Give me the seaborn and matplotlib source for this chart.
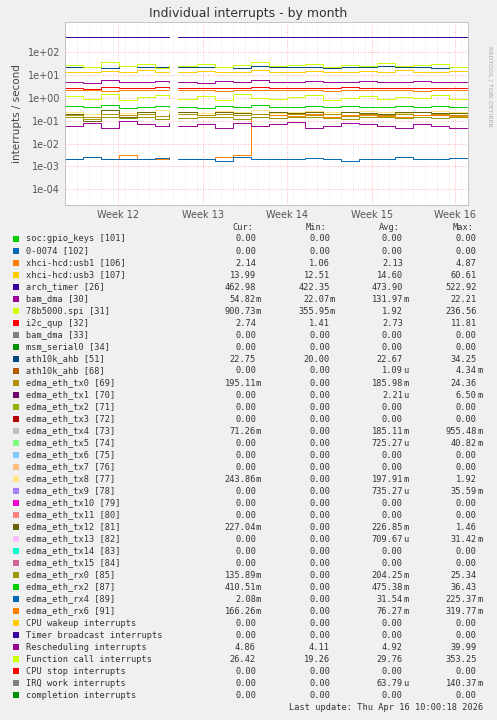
import matplotlib
matplotlib.use("Agg")
import matplotlib.pyplot as plt
import matplotlib.patches as mpatches
import matplotlib.ticker as mticker
import seaborn as sns
import pandas as pd
import numpy as np

# sample times in days; the data gap sits between 8.7 and 9.4
days = [0, 1.5, 3, 4.5, 6, 7.5, 8.7, 9.4, 11, 12.5, 14, 15.5, 17, 18.5, 20, 21.5,
        23, 24.5, 26, 27.5, 29, 30.5, 32, 33.6]
gap_after = 8.7

series = {
    "arch_timer [26]": ("#330099", [470, 465, 462, 468, 460, 466, 463, 470, 462, 465, 460, 468, 463, 461, 466, 462, 470, 464, 462, 467, 463, 461, 465, 463]),
    "ath10k_ahb [51]": ("#00487D", [22, 23, 21, 24, 22, 23, 21, 22, 23, 22, 21, 24, 22, 23, 22, 21, 23, 22, 24, 22, 23, 21, 22, 23]),
    "Function call interrupts": ("#CCFF00", [28, 22, 35, 25, 30, 20, 26, 24, 30, 22, 28, 35, 24, 26, 30, 22, 28, 25, 32, 24, 27, 30, 23, 26]),
    "xhci-hcd:usb3 [107]": ("#FFCC00", [14, 13, 15, 14, 16, 13, 14, 14, 15, 13, 14, 16, 14, 13, 15, 14, 13, 15, 14, 16, 14, 13, 15, 14]),
    "Rescheduling interrupts": ("#990099", [5, 4.5, 6, 5, 4.8, 5.5, 5, 5, 4.6, 5.2, 5, 6, 4.8, 5, 5.3, 4.7, 5, 5.5, 4.9, 5, 5.2, 4.8, 5, 4.9]),
    "i2c_qup [32]": ("#FF0000", [2.7, 2.5, 3.0, 2.8, 2.6, 2.9, 2.7, 2.7, 2.8, 2.6, 2.7, 2.9, 2.7, 2.6, 2.8, 2.7, 2.9, 2.6, 2.7, 2.8, 2.7, 2.6, 2.8, 2.7]),
    "xhci-hcd:usb1 [106]": ("#FF8000", [2.1, 2.2, 2.0, 2.3, 2.1, 2.2, 2.1, 2.1, 2.2, 2.0, 2.1, 2.2, 2.1, 2.3, 2.1, 2.0, 2.2, 2.1, 2.1, 2.2, 2.0, 2.1, 2.2, 2.1]),
    "78b5000.spi [31]": ("#CCFF00", [1.2, 0.9, 1.5, 0.8, 1.1, 1.3, 1.0, 0.9, 1.2, 0.8, 1.4, 1.0, 0.9, 1.1, 1.3, 0.8, 1.0, 1.2, 0.9, 1.1, 1.0, 1.3, 0.9, 1.0]),
    "edma_eth_rx2 [87]": ("#00CC00", [0.45, 0.4, 0.5, 0.35, 0.4, 0.45, 0.4, 0.4, 0.35, 0.45, 0.4, 0.5, 0.4, 0.38, 0.42, 0.4, 0.45, 0.4, 0.38, 0.42, 0.4, 0.45, 0.4, 0.41]),
    "edma_eth_tx8 [77]": ("#FFE680", [0.25, 0.2, 0.3, 0.22, 0.25, 0.28, 0.24, 0.24, 0.22, 0.26, 0.25, 0.3, 0.22, 0.24, 0.26, 0.23, 0.25, 0.27, 0.24, 0.22, 0.25, 0.26, 0.24, 0.24]),
    "edma_eth_tx12 [81]": ("#666600", [0.2, 0.1, 0.3, 0.15, 0.25, 0.12, 0.2, 0.23, 0.18, 0.25, 0.22, 0.2, 0.24, 0.21, 0.23, 0.2, 0.25, 0.22, 0.2, 0.24, 0.23, 0.21, 0.22, 0.23]),
    "edma_eth_tx0 [69]": ("#B38F00", [0.18, 0.15, 0.2, 0.17, 0.19, 0.16, 0.18, 0.2, 0.17, 0.19, 0.18, 0.2, 0.17, 0.19, 0.18, 0.2, 0.16, 0.19, 0.18, 0.2, 0.17, 0.19, 0.18, 0.2]),
    "edma_eth_rx6 [91]": ("#FF8000", [0.002, 0.0025, 0.002, 0.003, 0.0022, 0.002, 0.0025, 0.002, 0.002, 0.0025, 0.003, 0.15, 0.17, 0.16, 0.2, 0.15, 0.17, 0.18, 0.16, 0.15, 0.18, 0.17, 0.16, 0.17]),
    "edma_eth_rx0 [85]": ("#999900", [0.14, 0.12, 0.15, 0.13, 0.14, 0.12, 0.14, 0.13, 0.15, 0.14, 0.12, 0.14, 0.13, 0.15, 0.14, 0.13, 0.12, 0.14, 0.15, 0.13, 0.14, 0.13, 0.14, 0.14]),
    "bam_dma [30]": ("#990099", [0.06, 0.08, 0.05, 0.1, 0.07, 0.06, 0.08, 0.06, 0.07, 0.05, 0.08, 0.06, 0.07, 0.09, 0.05, 0.06, 0.08, 0.07, 0.06, 0.05, 0.07, 0.06, 0.05, 0.055]),
    "edma_eth_rx4 [89]": ("#0066B3", [0.002, 0.0025, 0.002, 0.0022, 0.002, 0.0024, 0.002, 0.0022, 0.002, 0.0018, 0.0025, 0.002, 0.0022, 0.002, 0.0024, 0.002, 0.0018, 0.0022, 0.002, 0.0025, 0.0021, 0.002, 0.0023, 0.0021]),
}

# legend table values
names = ["soc:gpio_keys [101]", "0-0074 [102]", "xhci-hcd:usb1 [106]", "xhci-hcd:usb3 [107]",
         "arch_timer [26]", "bam_dma [30]", "78b5000.spi [31]", "i2c_qup [32]", "bam_dma [33]",
         "msm_serial0 [34]", "ath10k_ahb [51]", "ath10k_ahb [68]", "edma_eth_tx0 [69]",
         "edma_eth_tx1 [70]", "edma_eth_tx2 [71]", "edma_eth_tx3 [72]", "edma_eth_tx4 [73]",
         "edma_eth_tx5 [74]", "edma_eth_tx6 [75]", "edma_eth_tx7 [76]", "edma_eth_tx8 [77]",
         "edma_eth_tx9 [78]", "edma_eth_tx10 [79]", "edma_eth_tx11 [80]", "edma_eth_tx12 [81]",
         "edma_eth_tx13 [82]", "edma_eth_tx14 [83]", "edma_eth_tx15 [84]", "edma_eth_rx0 [85]",
         "edma_eth_rx2 [87]", "edma_eth_rx4 [89]", "edma_eth_rx6 [91]", "CPU wakeup interrupts",
         "Timer broadcast interrupts", "Rescheduling interrupts", "Function call interrupts",
         "CPU stop interrupts", "IRQ work interrupts", "completion interrupts"]
cur = ["0.00", "0.00", "2.14", "13.99", "462.98", "54.82m", "900.73m", "2.74", "0.00", "0.00",
       "22.75", "0.00", "195.11m", "0.00", "0.00", "0.00", "71.26m", "0.00", "0.00", "0.00",
       "243.86m", "0.00", "0.00", "0.00", "227.04m", "0.00", "0.00", "0.00", "135.89m",
       "410.51m", "2.08m", "166.26m", "0.00", "0.00", "4.86", "26.42", "0.00", "0.00", "0.00"]
mins = ["0.00", "0.00", "1.06", "12.51", "422.35", "22.07m", "355.95m", "1.41", "0.00", "0.00",
        "20.00", "0.00", "0.00", "0.00", "0.00", "0.00", "0.00", "0.00", "0.00", "0.00",
        "0.00", "0.00", "0.00", "0.00", "0.00", "0.00", "0.00", "0.00", "0.00",
        "0.00", "0.00", "0.00", "0.00", "0.00", "4.11", "19.26", "0.00", "0.00", "0.00"]
avgs = ["0.00", "0.00", "2.13", "14.60", "473.90", "131.97m", "1.92", "2.73", "0.00", "0.00",
        "22.67", "1.09u", "185.98m", "2.21u", "0.00", "0.00", "185.11m", "725.27u", "0.00", "0.00",
        "197.91m", "735.27u", "0.00", "0.00", "226.85m", "709.67u", "0.00", "0.00", "204.25m",
        "475.38m", "31.54m", "76.27m", "0.00", "0.00", "4.92", "29.76", "0.00", "63.79u", "0.00"]
maxs = ["0.00", "0.00", "4.87", "60.61", "522.92", "22.21", "236.56", "11.81", "0.00", "0.00",
        "34.25", "4.34m", "24.36", "6.50m", "0.00", "0.00", "955.48m", "40.82m", "0.00", "0.00",
        "1.92", "35.59m", "0.00", "0.00", "1.46", "31.42m", "0.00", "0.00", "25.34",
        "36.43", "225.37m", "319.77m", "0.00", "0.00", "39.99", "353.25", "0.00", "140.37m", "0.00"]

munin = ["#00CC00", "#0066B3", "#FF8000", "#FFCC00", "#330099", "#990099", "#CCFF00", "#FF0000",
         "#808080", "#008F00", "#00487D", "#B35A00", "#B38F00", "#6B006B", "#8FB300", "#B30000",
         "#BEBEBE", "#80FF80", "#80C9FF", "#FFC080", "#FFE680", "#AA80FF", "#EE00CC", "#FF8080",
         "#666600", "#FFBFFF", "#00FFCC", "#CC6699", "#999900"]

week_labels = ["Week 12", "Week 13", "Week 14", "Week 15", "Week 16"]
week_pos = [4.4, 11.5, 18.5, 25.6, 32.5]

sns.set_style("white")
plt.rcParams["font.family"] = ["DejaVu Sans"]

rows = []
for name, (col, vals) in series.items():
    for d, v in zip(days, vals):
        rows.append({"day": d, "value": v, "series": name, "seg": 0 if d <= gap_after else 1})
df = pd.DataFrame(rows)
pal = {n: c for n, (c, _) in series.items()}

fig = plt.figure(figsize=(4.97, 7.2), dpi=100, facecolor="#F0F0F0")
ax = fig.add_axes([0.131, 0.715, 0.811, 0.254])
ax.set_facecolor("white")
sns.lineplot(data=df, x="day", y="value", hue="series", units="seg", estimator=None,
             palette=pal, drawstyle="steps-post", linewidth=0.7, legend=False, ax=ax)
ax.set_yscale("log")
ax.set_ylim(2e-5, 2e3)
ax.set_xlim(0, 33.6)
ax.set_yticks([1e-4, 1e-3, 1e-2, 1e-1, 1, 10, 100])
ax.set_yticklabels(["1e-04", "1e-03", "1e-02", "1e-01", "1e+00", "1e+01", "1e+02"])
ax.yaxis.set_minor_locator(mticker.NullLocator())
ax.set_xticks(week_pos)
ax.set_xticklabels(week_labels)
ax.set_xticks(np.arange(0, 34, 1), minor=True)
ax.tick_params(labelsize=7, length=0, colors="#555555")
ax.grid(True, which="major", color="#FF9999", linestyle=(0, (1, 2)), linewidth=0.6)
ax.grid(True, which="minor", axis="x", color="#DDDDDD", linestyle=(0, (1, 2)), linewidth=0.5)
for sp in ax.spines.values():
    sp.set_color("#BBBBBB")
    sp.set_linewidth(0.6)
ax.set_xlabel("")
ax.set_ylabel("interrupts / second", fontsize=7.5, color="#444444")

fig.text(0.5, 0.981, "Individual interrupts - by month", ha="center", va="center", fontsize=9, color="#333333")
fig.text(0.985, 0.88, "RRDTOOL / TOBI OETIKER", rotation=270, ha="center", va="center", fontsize=4.5, color="#AAAAAA")

mono = "DejaVu Sans Mono"
fs = 6.2
W, H = 497, 720
col_x = [256, 330, 403, 477]
suf_w = 5.2  # width of a unit suffix character


def put_value(x, y, s):
    # align on the number, let the unit suffix hang to the right
    if s[-1] in "mu":
        fig.text(x / W, 1 - y / H, s[:-1], ha="right", va="center", family=mono, fontsize=fs, color="#333333")
        fig.text(x / W, 1 - y / H, s[-1], ha="left", va="center", family=mono, fontsize=fs, color="#333333")
    else:
        fig.text(x / W, 1 - y / H, s, ha="right", va="center", family=mono, fontsize=fs, color="#333333")


hy = 227
for x, h in zip(col_x, ["Cur:", "Min:", "Avg:", "Max:"]):
    fig.text((x - 3) / W, 1 - hy / H, h, ha="right", va="center", family=mono, fontsize=fs, color="#333333")
for i, n in enumerate(names):
    y = 239 + i * 12.0
    c = munin[i % len(munin)]
    fig.add_artist(mpatches.Rectangle((13 / W, 1 - (y + 3) / H), 6 / W, 6 / H,
                                      transform=fig.transFigure, facecolor=c, edgecolor="none"))
    fig.text(26 / W, 1 - y / H, n, ha="left", va="center", family=mono, fontsize=fs, color="#333333")
    for x, v in zip(col_x, [cur[i], mins[i], avgs[i], maxs[i]]):
        put_value(x, y, v)
fig.text(483 / W, 1 - 708 / H, "Last update: Thu Apr 16 10:00:18 2026", ha="right", va="center",
         family=mono, fontsize=fs, color="#333333")

fig.savefig("out.png", dpi=100, facecolor=fig.get_facecolor())
